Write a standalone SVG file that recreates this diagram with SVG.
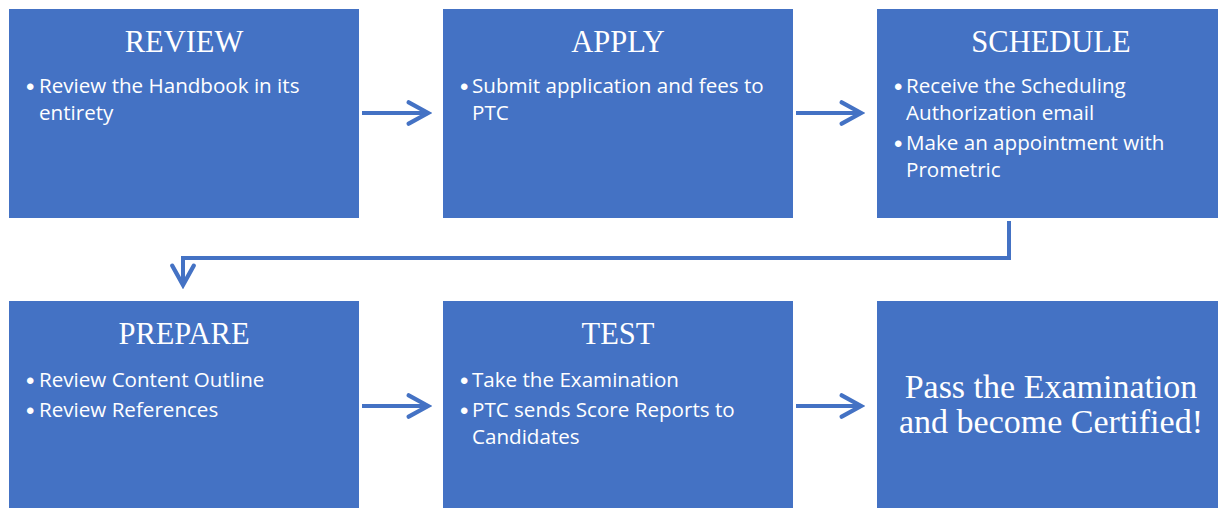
<svg xmlns="http://www.w3.org/2000/svg" width="1218" height="508" viewBox="0 0 1218 508">
  <style>
    .box { fill: #4472C4; }
    .title { font-family: "Liberation Serif", "Times New Roman", serif; font-size: 30.5px; fill: #ffffff; text-anchor: middle; }
    .big { font-family: "Liberation Serif", "Times New Roman", serif; font-size: 34px; fill: #ffffff; text-anchor: middle; }
    .item { font-family: "Open Sans", "Liberation Sans", sans-serif; font-size: 20.6px; fill: #ffffff; }
    .dot { font-family: "Liberation Sans", sans-serif; font-size: 24px; fill: #ffffff; }
    .flow { fill: none; stroke: #4472C4; stroke-width: 4; }
  </style>
  <defs>
    <marker id="chevron" markerUnits="userSpaceOnUse" markerWidth="30" markerHeight="30" viewBox="-24 -14 28 28" refX="0" refY="0" orient="auto">
      <path d="M-18,-10 L0,0 L-18,10" fill="none" stroke="#4472C4" stroke-width="4" stroke-linecap="round" stroke-linejoin="miter"/>
    </marker>
  </defs>

  <rect width="1218" height="508" fill="#ffffff"/>

  <g id="review">
    <rect class="box" x="9" y="9" width="350" height="209"/>
    <text class="title" x="184" y="52">REVIEW</text>
    <text class="dot" x="26" y="95">•</text>
    <text class="item" x="39" y="93">Review the Handbook in its</text>
    <text class="item" x="39" y="120">entirety</text>
  </g>

  <g id="apply">
    <rect class="box" x="443" y="9" width="350" height="209"/>
    <text class="title" x="618" y="52">APPLY</text>
    <text class="dot" x="460" y="95">•</text>
    <text class="item" x="472" y="93">Submit application and fees to</text>
    <text class="item" x="472" y="120">PTC</text>
  </g>

  <g id="schedule">
    <rect class="box" x="877" y="9" width="350" height="209"/>
    <text class="title" x="1051" y="52">SCHEDULE</text>
    <text class="dot" x="894" y="95">•</text>
    <text class="item" x="906" y="93">Receive the Scheduling</text>
    <text class="item" x="906" y="120">Authorization email</text>
    <text class="dot" x="894" y="152">•</text>
    <text class="item" x="906" y="150">Make an appointment with</text>
    <text class="item" x="906" y="177">Prometric</text>
  </g>

  <g id="prepare">
    <rect class="box" x="9" y="301" width="350" height="209"/>
    <text class="title" x="184" y="344">PREPARE</text>
    <text class="dot" x="26" y="389">•</text>
    <text class="item" x="39" y="387">Review Content Outline</text>
    <text class="dot" x="26" y="419">•</text>
    <text class="item" x="39" y="417">Review References</text>
  </g>

  <g id="test">
    <rect class="box" x="443" y="301" width="350" height="209"/>
    <text class="title" x="618" y="344">TEST</text>
    <text class="dot" x="460" y="389">•</text>
    <text class="item" x="472" y="387">Take the Examination</text>
    <text class="dot" x="460" y="419">•</text>
    <text class="item" x="472" y="417">PTC sends Score Reports to</text>
    <text class="item" x="472" y="444">Candidates</text>
  </g>

  <g id="certified">
    <rect class="box" x="877" y="301" width="350" height="209"/>
    <text class="big" x="1051" y="398">Pass the Examination</text>
    <text class="big" x="1051" y="433">and become Certified!</text>
  </g>

  <g id="connectors">
    <path class="flow" d="M362,113 H428" marker-end="url(#chevron)"/>
    <path class="flow" d="M796,113 H861" marker-end="url(#chevron)"/>
    <path class="flow" d="M1009,221 V258 H183 V285" marker-end="url(#chevron)"/>
    <path class="flow" d="M362,406 H428" marker-end="url(#chevron)"/>
    <path class="flow" d="M796,406 H861" marker-end="url(#chevron)"/>
  </g>
</svg>
